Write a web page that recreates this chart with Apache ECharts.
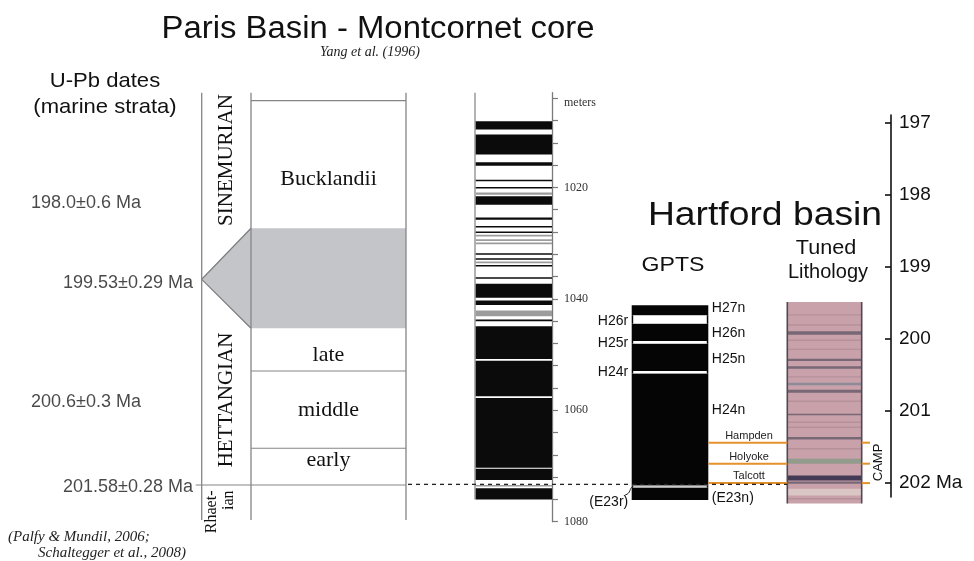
<!DOCTYPE html>
<html><head><meta charset="utf-8">
<script src="https://cdn.jsdelivr.net/npm/echarts@6/dist/echarts.min.js"></script>
<style>html,body{margin:0;padding:0;background:#fff}#c{width:974px;height:561px}</style>
</head><body><div id="c"></div>
<script>
// ================= DATA =================
// Montcornet core magnetostratigraphy (depth in meters)
const coreNormal = [[1008.1,1009.6],[1010.5,1014.1],[1015.5,1016.1],[1018.6,1018.9],[1019.9,1020.2],
  [1021.6,1023.1],[1025.4,1025.8],[1026.9,1027.2],[1027.9,1028.2],[1031.8,1032.1],[1032.7,1033.0],
  [1033.9,1034.2],[1036.1,1036.4],[1037.3,1039.8],[1040.3,1041.1],[1043.7,1044.0],[1044.9,1050.8],
  [1051.1,1057.5],[1057.8,1070.3],[1070.5,1072.5],[1074.0,1076.0]];
const coreGray = [[1020.9,1021.3],[1028.5,1028.8],[1029.3,1029.6],[1029.9,1030.2],[1033.3,1033.6],
  [1042.1,1043.1],[1073.4,1073.7]];
const coreExtent = [1003, 1076];
const depthTicks = [1004,1008,1012,1016,1020,1024,1028,1032,1036,1040,1044,1048,1052,1056,1060,1064,1068,1072,1076,1080];
const depthLabels = [1004,1020,1040,1060,1080];

// Stage / zone column (placed on the core depth scale)
const stageColumn = [1003, 1079.7];
const zoneBounds = [1004.43, 1052.95, 1066.82];
const stageBound = [1073.41];
const grayBand = [1027.33, 1045.28, 1036.49];   // top, bottom, apex
const zoneNames = ['Bucklandii','late','middle','early'];
const zoneDepths = [1018.54, 1050.08, 1059.95, 1068.9];
const stageNames = ['SINEMURIAN','HETTANGIAN'];
const stageDepths = [1015.08, 1058.15];
const rhaetNames = ['Rhaet-','ian'];
const rhaetDepth = 1074.4;

// U-Pb dates
const uPbLabels = ['198.0\u00b10.6 Ma','199.53\u00b10.29 Ma','200.6\u00b10.3 Ma','201.58\u00b10.28 Ma'];
const uPbDepths = [1022.8, 1037.1, 1058.6, 1073.7];
const correlationDepth = 1073.3;

// Hartford basin (age in Ma)
const ageTicks = [197,198,199,200,201,202];
const gptsNormal = [[199.535,199.675],[199.79,200.03],[200.07,200.45],[200.485,202.04],[202.07,202.24]];
const gptsNormalNames = ['H27n','H26n','H25n','H24n','(E23n)'];
const gptsNormalLabelAges = [199.58,199.92,200.29,200.99,202.22];
const gptsReversed = [[199.675,199.79],[200.03,200.07],[200.45,200.485],[202.04,202.07]];
const gptsReversedNames = ['H26r','H25r','H24r','(E23r)'];
const gptsReversedLabelAges = [199.754,200.064,200.463,202.27];

const lithExtent = [199.49, 202.29];
const lithStripes = [[199.66,199.67,'f'],[199.80,199.82,'f'],[199.897,199.943,'d'],[200.01,200.03,'f'],
  [200.14,200.15,'f'],[200.277,200.31,'d'],[200.384,200.416,'d'],[200.52,200.53,'f'],[200.611,200.648,'g'],
  [200.708,200.75,'d'],[200.86,200.88,'f'],[201.042,201.065,'d'],[201.149,201.172,'f'],[201.22,201.24,'f'],
  [201.367,201.399,'d'],[201.52,201.54,'f'],[201.668,201.737,'gr'],[201.9,201.969,'n'],[201.983,202.015,'d'],
  [202.085,202.178,'l'],[202.215,202.235,'f']];
const horizonNames = ['Hampden','Holyoke','Talcott'];
const horizonAges = [201.445, 201.737, 202.007];
const campAge = 201.72;

// ================= LAYOUT / STYLE =================
const W = 974;
const D_TOP = 92.73, D_H = 428.97;
const ST_L = 201.7, ST_W = 204.3, ST_IN = 49.3;
const CO_L = 475, CO_W = 77;
const AG_L = 631.7, AG_W = 259.3, AG_TOP = 115, AG_H = 382;
const GP_W = 76.6, LI_X0 = 155.6, LI_X1 = 230, OR_END = 238.3, CAMP_X = 246.3, HZ_LABEL_X = 117.3;
const DATE_RIGHT = [141, 193, 141, 193];
const CORR_X = [408, 787];
const SANS = '"Liberation Sans", Arial, Helvetica, sans-serif';
const SERIF = '"Liberation Serif", "Times New Roman", serif';
const stripeColor = {f:'#b48f99', d:'#6f6270', g:'#868896', gr:'#8d9a8a', n:'#352f4b', l:'#dccbc8'};

function rect(a, b, minH) {
  return {x: Math.min(a[0], b[0]), y: Math.min(a[1], b[1]),
          width: Math.abs(b[0] - a[0]), height: Math.max(minH || 1, Math.abs(b[1] - a[1]))};
}
function txt(x, y, text, font, align, valign, rot, fill, sx) {
  return {type:'text', x:x, y:y, rotation: rot || 0, scaleX: sx || 1,
    style:{text:text, font:font, fill:fill || '#111', align:align, verticalAlign:valign,
           textAlign:align, textVerticalAlign:valign}};
}

const chart = echarts.init(document.getElementById('c'), null, {renderer:'canvas'});

const series = [];

// ---- stage column ----
series.push({type:'custom', name:'grayBand', xAxisIndex:0, yAxisIndex:0, clip:false, z:1, silent:true,
  data:[grayBand],
  renderItem:(p, api) => {
    const t = api.value(0), b = api.value(1), tip = api.value(2);
    const pts = [api.coord([ST_IN,t]), api.coord([ST_W,t]), api.coord([ST_W,b]), api.coord([ST_IN,b]), api.coord([0,tip])];
    return {type:'group', children:[
      {type:'polygon', shape:{points:pts}, style:{fill:'#c3c5c8'}},
      {type:'polyline', shape:{points:[pts[0], pts[4], pts[3]]}, style:{stroke:'#7a7c80', lineWidth:1.2, fill:null}}
    ]};
  }});
series.push({type:'custom', name:'stageFrame', xAxisIndex:0, yAxisIndex:0, clip:false, z:2, silent:true,
  data:[stageColumn],
  renderItem:(p, api) => {
    const ch = [];
    [0, ST_IN, ST_W].forEach(x => {
      const a = api.coord([x, api.value(0)]), b = api.coord([x, api.value(1)]);
      ch.push({type:'line', shape:{x1:a[0], y1:a[1], x2:b[0], y2:b[1]}, style:{stroke:'#858585', lineWidth:1.3}});
    });
    return {type:'group', children:ch};
  }});
series.push({type:'custom', name:'zoneBounds', xAxisIndex:0, yAxisIndex:0, clip:false, z:2, silent:true,
  data: zoneBounds.map(d => [d, 0]).concat(stageBound.map(d => [d, 1])),
  renderItem:(p, api) => {
    const d = api.value(0), full = api.value(1);
    const a = api.coord([full ? -6 : ST_IN, d]), b = api.coord([ST_W, d]);
    return {type:'line', shape:{x1:a[0], y1:a[1], x2:b[0], y2:b[1]}, style:{stroke:'#858585', lineWidth:1.2}};
  }});
series.push({type:'custom', name:'zoneLabels', xAxisIndex:0, yAxisIndex:0, clip:false, z:3, silent:true,
  data: zoneDepths.map(d => [d]),
  renderItem:(p, api) => {
    const c = api.coord([(ST_IN + ST_W) / 2, api.value(0)]);
    return txt(c[0], c[1], zoneNames[p.dataIndex], '22px ' + SERIF, 'center', 'middle');
  }});
series.push({type:'custom', name:'stageLabels', xAxisIndex:0, yAxisIndex:0, clip:false, z:3, silent:true,
  data: stageDepths.map(d => [d]),
  renderItem:(p, api) => {
    const c = api.coord([25, api.value(0)]);
    return txt(c[0], c[1], stageNames[p.dataIndex], '21px ' + SERIF, 'center', 'middle', Math.PI / 2);
  }});
series.push({type:'custom', name:'rhaetLabel', xAxisIndex:0, yAxisIndex:0, clip:false, z:3, silent:true,
  data: [[rhaetDepth]],
  renderItem:(p, api) => {
    const a = api.coord([10.5, api.value(0)]), b = api.coord([27, api.value(0)]);
    return {type:'group', children:[
      txt(a[0], a[1], rhaetNames[0], '16px ' + SERIF, 'right', 'middle', Math.PI / 2),
      txt(b[0], b[1], rhaetNames[1], '16px ' + SERIF, 'right', 'middle', Math.PI / 2)
    ]};
  }});

// ---- core column ----
series.push({type:'custom', name:'coreBorder', xAxisIndex:1, yAxisIndex:1, clip:false, z:1, silent:true,
  data:[coreExtent],
  renderItem:(p, api) => {
    const a = api.coord([0, api.value(0)]), b = api.coord([0, api.value(1)]);
    return {type:'line', shape:{x1:a[0], y1:a[1], x2:b[0], y2:b[1]}, style:{stroke:'#8a8a8a', lineWidth:1.3}};
  }});
series.push({type:'custom', name:'coreBands', xAxisIndex:1, yAxisIndex:1, clip:false, z:2, silent:true,
  data: coreNormal.map(d => [d[0], d[1], 0]).concat(coreGray.map(d => [d[0], d[1], 1])),
  renderItem:(p, api) => {
    const a = api.coord([0.7, api.value(0)]), b = api.coord([CO_W, api.value(1)]);
    return {type:'rect', shape:rect(a, b, 1.2), style:{fill: api.value(2) ? '#9c9c9c' : '#0b0b0b'}};
  }});

// ---- overlay: correlation line + U-Pb dates ----
series.push({type:'line', name:'correlation', xAxisIndex:3, yAxisIndex:3, symbol:'none', silent:true, z:4,
  data: CORR_X.map(x => [x, correlationDepth]),
  lineStyle:{color:'#222', width:1.3, type:[4, 4]}});
series.push({type:'scatter', name:'uPb', xAxisIndex:3, yAxisIndex:3, symbolSize:0, silent:true,
  data: uPbDepths.map((d, i) => [DATE_RIGHT[i], d]),
  label:{show:true, position:'left', distance:0, color:'#1a1a1a', fontFamily:SANS, fontSize:18,
         formatter: p => uPbLabels[p.dataIndex]}});

// ---- Hartford: GPTS ----
series.push({type:'custom', name:'gptsNormal', xAxisIndex:2, yAxisIndex:2, clip:false, z:2, silent:true,
  data: gptsNormal,
  renderItem:(p, api) => {
    const a = api.coord([0, api.value(0)]), b = api.coord([GP_W, api.value(1)]);
    return {type:'rect', shape:rect(a, b), style:{fill:'#050505'}};
  }});
series.push({type:'custom', name:'gptsReversed', xAxisIndex:2, yAxisIndex:2, clip:false, z:2, silent:true,
  data: gptsReversed.map((d, i) => [d[0], d[1], i === gptsReversed.length - 1 ? 1 : 0]),
  renderItem:(p, api) => {
    const a = api.coord([0, api.value(0)]), b = api.coord([GP_W, api.value(1)]);
    return {type:'group', children:[
      {type:'rect', shape:rect(a, b), style:{fill:'#050505'}},
      {type:'rect', shape:{x:a[0] + 1.5, y:a[1], width:b[0] - a[0] - 3, height:Math.max(1.5, b[1] - a[1])},
       style:{fill: api.value(2) ? '#c9c9c9' : '#ffffff'}}
    ]};
  }});
series.push({type:'custom', name:'gptsLabels', xAxisIndex:2, yAxisIndex:2, clip:false, z:3, silent:true,
  data: gptsNormalLabelAges.map(a => [a, 0]).concat(gptsReversedLabelAges.map(a => [a, 1])),
  renderItem:(p, api) => {
    const rev = api.value(1);
    const i = rev ? p.dataIndex - gptsNormalLabelAges.length : p.dataIndex;
    const c = api.coord([rev ? -3.5 : GP_W + 3.5, api.value(0)]);
    const t = txt(c[0], c[1], rev ? gptsReversedNames[i] : gptsNormalNames[i], '14px ' + SANS, rev ? 'right' : 'left', 'middle');
    if (rev && i === gptsReversedNames.length - 1) {
      const top = api.coord([0, gptsReversed[i][0]]);
      return {type:'group', children:[t,
        {type:'bezierCurve', shape:{x1:c[0] - 3, y1:c[1] - 7, x2:top[0] + 1, y2:top[1] + 1,
          cpx1:c[0] + 3, cpy1:c[1] - 9, cpx2:c[0] + 1, cpy2:top[1] + 3}, style:{stroke:'#222', lineWidth:1, fill:null}}]};
    }
    return t;
  }});

// ---- Hartford: tuned lithology ----
series.push({type:'custom', name:'lithBase', xAxisIndex:2, yAxisIndex:2, clip:false, z:1, silent:true,
  data:[lithExtent],
  renderItem:(p, api) => {
    const a = api.coord([LI_X0, api.value(0)]), b = api.coord([LI_X1, api.value(1)]);
    return {type:'rect', shape:rect(a, b), style:{fill:'#c8a1aa'}};
  }});
series.push({type:'custom', name:'lithStripes', xAxisIndex:2, yAxisIndex:2, clip:false, z:2, silent:true,
  data: lithStripes.map(s => [s[0], s[1]]),
  renderItem:(p, api) => {
    const a = api.coord([LI_X0, api.value(0)]), b = api.coord([LI_X1, api.value(1)]);
    return {type:'rect', shape:rect(a, b, 1.3), style:{fill: stripeColor[lithStripes[p.dataIndex][2]], opacity:0.9}};
  }});
series.push({type:'custom', name:'lithBorder', xAxisIndex:2, yAxisIndex:2, clip:false, z:3, silent:true,
  data:[lithExtent],
  renderItem:(p, api) => {
    const ch = [];
    [LI_X0, LI_X1].forEach(x => {
      const a = api.coord([x, api.value(0)]), b = api.coord([x, api.value(1)]);
      ch.push({type:'line', shape:{x1:a[0], y1:a[1], x2:b[0], y2:b[1]}, style:{stroke:'#4e4a52', lineWidth:1.6}});
    });
    return {type:'group', children:ch};
  }});
series.push({type:'custom', name:'horizons', xAxisIndex:2, yAxisIndex:2, clip:false, z:3, silent:true,
  data: horizonAges.map(a => [a]),
  renderItem:(p, api) => {
    const v = api.value(0);
    const a = api.coord([GP_W, v]), b = api.coord([LI_X0, v]);
    const c = api.coord([LI_X1, v]), d = api.coord([OR_END, v]);
    const l = api.coord([HZ_LABEL_X, v]);
    return {type:'group', children:[
      {type:'line', shape:{x1:a[0], y1:a[1], x2:b[0], y2:b[1]}, style:{stroke:'#e5912c', lineWidth:2}},
      {type:'line', shape:{x1:c[0], y1:c[1], x2:d[0], y2:d[1]}, style:{stroke:'#e5912c', lineWidth:2}},
      txt(l[0], l[1] - 7, horizonNames[p.dataIndex], '11px ' + SANS, 'center', 'middle', 0, '#222')
    ]};
  }});
series.push({type:'custom', name:'camp', xAxisIndex:2, yAxisIndex:2, clip:false, z:3, silent:true,
  data:[[campAge]],
  renderItem:(p, api) => {
    const c = api.coord([CAMP_X, api.value(0)]);
    return txt(c[0], c[1], 'CAMP', '13px ' + SANS, 'center', 'middle', Math.PI / 2);
  }});

const option = {
  backgroundColor:'#ffffff',
  animation:false,
  grid:[
    {left:ST_L, top:D_TOP, width:ST_W, height:D_H},
    {left:CO_L, top:D_TOP, width:CO_W, height:D_H},
    {left:AG_L, top:AG_TOP, width:AG_W, height:AG_H},
    {left:0, top:D_TOP, width:W, height:D_H}
  ],
  xAxis:[
    {gridIndex:0, type:'value', min:0, max:ST_W, show:false},
    {gridIndex:1, type:'value', min:0, max:CO_W, show:false},
    {gridIndex:2, type:'value', min:0, max:AG_W, show:false},
    {gridIndex:3, type:'value', min:0, max:W, show:false}
  ],
  yAxis:[
    {gridIndex:0, type:'value', min:1003, max:1080, inverse:true, show:false},
    {gridIndex:1, type:'value', min:1003, max:1080, inverse:true, position:'right',
      axisLine:{show:true, onZero:false, lineStyle:{color:'#7a7a7a', width:1.3}},
      axisTick:{show:true, length:6, customValues:depthTicks, lineStyle:{color:'#7a7a7a', width:1.2}},
      axisLabel:{show:true, customValues:depthLabels, margin:12, color:'#333', fontFamily:SERIF, fontSize:12,
        formatter: v => v === 1004 ? '{m|meters}' : String(v),
        rich:{m:{fontFamily:SERIF, fontSize:12, color:'#333', padding:[10, 0, 0, 0]}}},
      splitLine:{show:false}},
    {gridIndex:2, type:'value', min:196.89, max:202.2, inverse:true, position:'right',
      axisLine:{show:true, onZero:false, lineStyle:{color:'#111', width:1.6}},
      axisTick:{show:true, inside:true, length:6, customValues:ageTicks, lineStyle:{color:'#111', width:1.6}},
      axisLabel:{show:true, customValues:ageTicks, margin:8, color:'#111', fontFamily:SANS, fontSize:19,
        formatter: v => v === 202 ? '202 Ma' : String(v)},
      splitLine:{show:false}},
    {gridIndex:3, type:'value', min:1003, max:1080, inverse:true, show:false}
  ],
  graphic:[
    txt(378, 29, 'Paris Basin - Montcornet core', '31px ' + SANS, 'center', 'middle', 0, '#111', 1.06),
    txt(370, 52, 'Yang et al. (1996)', 'italic 14px ' + SERIF, 'center', 'middle', 0, '#222'),
    txt(105, 81, 'U-Pb dates', '21px ' + SANS, 'center', 'middle', 0, '#111', 1.05),
    txt(105, 107, '(marine strata)', '21px ' + SANS, 'center', 'middle', 0, '#111', 1.05),
    txt(765, 216, 'Hartford basin', '33px ' + SANS, 'center', 'middle', 0, '#111', 1.13),
    txt(673, 265, 'GPTS', '21px ' + SANS, 'center', 'middle', 0, '#111', 1.1),
    txt(826, 248, 'Tuned', '20px ' + SANS, 'center', 'middle', 0, '#111', 1.08),
    txt(828, 272, 'Lithology', '20px ' + SANS, 'center', 'middle'),
    txt(8, 537, '(Palfy & Mundil, 2006;', 'italic 15px ' + SERIF, 'left', 'middle', 0, '#222'),
    txt(38, 553, 'Schaltegger et al., 2008)', 'italic 15px ' + SERIF, 'left', 'middle', 0, '#222')
  ],
  series: series
};
chart.setOption(option);
</script>
</body></html>
